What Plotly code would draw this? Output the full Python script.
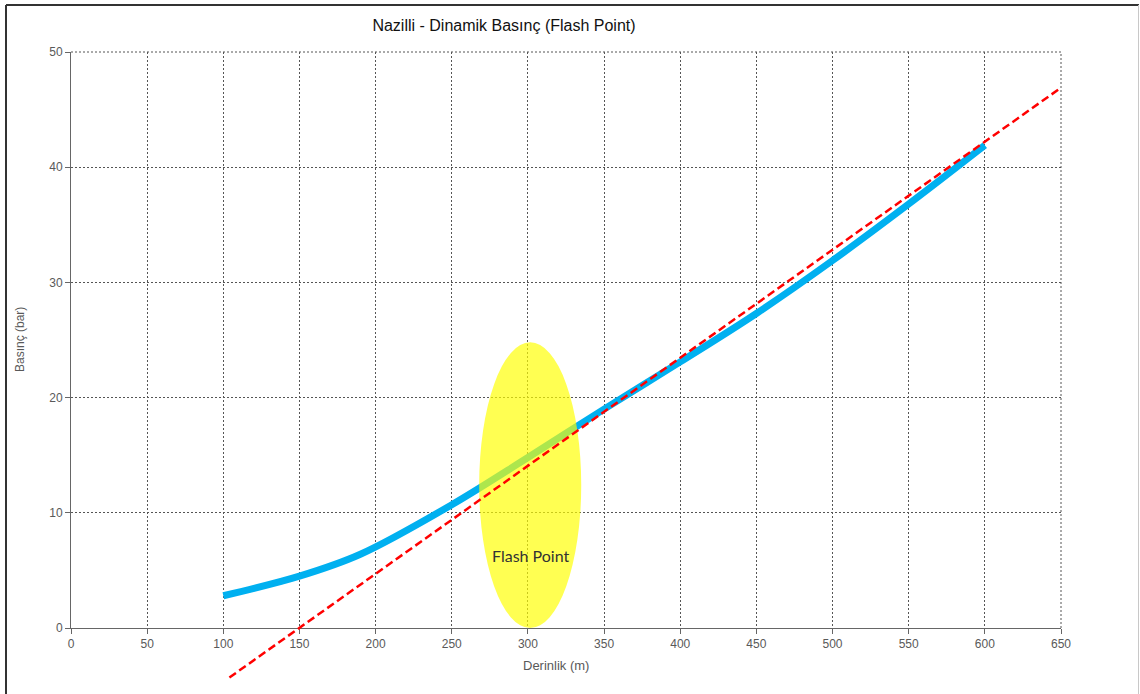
import plotly.graph_objects as go

# ---- data ----
depth = [100, 150, 190, 250, 300, 350, 400, 450, 500, 550, 600]
pressure = [2.8, 4.5, 6.4, 10.7, 14.8, 19.0, 23.1, 27.3, 31.9, 36.8, 41.9]

trend_x = [104, 650]
trend_y = [-4.3, 46.9]

x_ticks = [0, 50, 100, 150, 200, 250, 300, 350, 400, 450, 500, 550, 600, 650]
y_ticks = [0, 10, 20, 30, 40, 50]

title_text = "Nazilli - Dinamik Basınç (Flash Point)"
x_title = "Derinlik (m)"
y_title = "Basınç (bar)"
flash_label = "Flash Point"

# ---- layout geometry ----
W, H = 1140, 694
ML, MR, MT, MB = 71, 79, 52, 10
plot_h = H - MT - MB
y_bottom_px = 628
d0 = (H - MB - y_bottom_px) / plot_h
y2_low = -50 * d0 / (1 - d0)

font_main = "Liberation Sans, Arial, sans-serif"
tick_col = "#595959"
grid_col = "#555555"

fig = go.Figure()

fig.add_trace(go.Scatter(
    x=depth, y=pressure, mode="lines",
    line=dict(color="#00B0F0", width=7, shape="spline", smoothing=1.0),
    xaxis="x", yaxis="y", showlegend=False, hoverinfo="skip",
))

fig.add_trace(go.Scatter(
    x=trend_x, y=trend_y, mode="lines",
    line=dict(color="#FF0000", width=2.5, dash="8px,4px"),
    xaxis="x2", yaxis="y2", showlegend=False, hoverinfo="skip",
))

axis_common = dict(
    showline=True, linecolor="#666666", linewidth=1,
    ticks="outside", ticklen=5, tickcolor="#666666", tickwidth=1,
    showgrid=True, gridcolor=grid_col, gridwidth=1, griddash="2px,2px",
    zeroline=False, automargin=False,
    tickfont=dict(family=font_main, size=12, color=tick_col),
)

fig.update_layout(
    template="none",
    width=W, height=H, autosize=False,
    margin=dict(l=ML, r=MR, t=MT, b=MB, pad=0, autoexpand=False),
    paper_bgcolor="white",
    plot_bgcolor="rgba(0,0,0,0)",
    font=dict(family=font_main, color=tick_col),
    title=dict(
        text=title_text, xref="paper", x=(504 - ML) / (W - ML - MR),
        xanchor="center", yref="container", y=1 - 25 / H, yanchor="middle",
        font=dict(family=font_main, size=16, color="#111111"),
    ),
    xaxis=dict(domain=[0, 1], range=[0, 650], tickvals=x_ticks, anchor="y",
               **axis_common),
    yaxis=dict(domain=[d0, 1], range=[0, 50], tickvals=y_ticks, anchor="x",
               **axis_common),
    xaxis2=dict(domain=[0, 1], range=[0, 650], visible=False, anchor="y2",
                showgrid=False, zeroline=False, automargin=False),
    yaxis2=dict(domain=[0, 1], range=[y2_low, 50], visible=False, anchor="x2",
                showgrid=False, zeroline=False, automargin=False),
    showlegend=False,
)

shapes = []
# Flash point ellipse (translucent, above blue curve, below red trend)
shapes.append(dict(type="circle", xref="x2", yref="y2", x0=268, x1=335, y0=0, y1=24.8,
                   fillcolor="rgba(255,255,0,0.68)", line=dict(width=0), layer="below"))
# top and right gridlines at the range edges
shapes.append(dict(type="line", xref="x domain", yref="y domain", x0=0, x1=1, y0=1, y1=1,
                   line=dict(color=grid_col, width=1, dash="2px,2px"), layer="below"))
shapes.append(dict(type="line", xref="x domain", yref="y domain", x0=1, x1=1, y0=0, y1=1,
                   line=dict(color=grid_col, width=1, dash="2px,2px"), layer="below"))
# chart-area border
pw = W - ML - MR
def px_x(p):
    return (p - ML) / pw
def px_y(p):
    return 1 - (p - MT) / plot_h
shapes.append(dict(type="line", xref="paper", yref="paper", x0=px_x(6), x1=px_x(6),
                   y0=px_y(5), y1=px_y(H + 5), line=dict(color="#333333", width=2)))
shapes.append(dict(type="line", xref="paper", yref="paper", x0=px_x(6), x1=px_x(1139),
                   y0=px_y(5), y1=px_y(5), line=dict(color="#333333", width=2)))
shapes.append(dict(type="line", xref="paper", yref="paper", x0=px_x(1138.5), x1=px_x(1138.5),
                   y0=px_y(5), y1=px_y(H + 5), line=dict(color="#c8c8c8", width=1)))
fig.update_layout(shapes=shapes)

fig.add_annotation(text=flash_label, xref="x", yref="y", x=302, y=6.3,
                   showarrow=False, font=dict(family="Lato, Open Sans, sans-serif", size=16,
                                               color="#333333"))
fig.add_annotation(text=x_title, xref="x domain", yref="paper", x=0.49, y=px_y(665),
                   showarrow=False, xanchor="center", yanchor="middle",
                   font=dict(family=font_main, size=13, color=tick_col))
fig.add_annotation(text=y_title, xref="paper", yref="y domain", x=px_x(20), y=0.5,
                   textangle=-90, showarrow=False, xanchor="center", yanchor="middle",
                   font=dict(family=font_main, size=12, color=tick_col))

fig.write_html(
    "out.html",
    config={"displayModeBar": False},
    post_script="document.body.style.margin='0';document.body.style.overflow='hidden';",
)
